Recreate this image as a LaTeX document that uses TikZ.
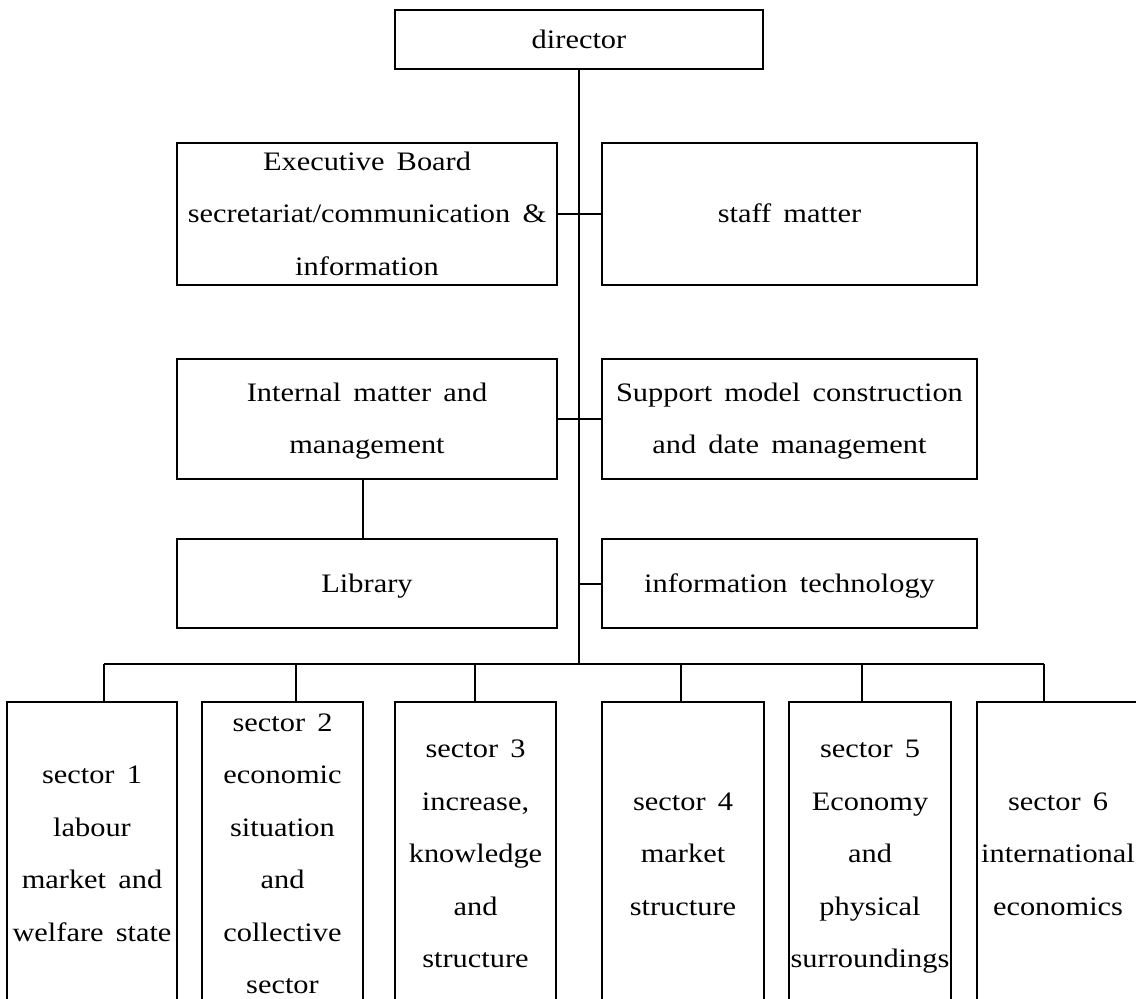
\documentclass[tikz,border=0pt]{standalone}
\usepackage{fontspec}
\setmainfont{Liberation Serif}
\usepackage{graphicx}
\newcommand\tsx{1.14}
\newcommand\boxtext[1]{\raisebox{-3.8pt}{\scalebox{\tsx}[1]{\begin{tabular}{@{}c@{}}#1\end{tabular}}}}
\newcommand\boxfont{\fontsize{20}{39.4}\selectfont\spaceskip=0.4em\relax}
\begin{document}
\begin{tikzpicture}[x=0.75pt,y=-0.75pt,
  box/.style={draw, line width=1.5pt, inner sep=0pt, text height=0pt, text depth=0pt,
    font=\boxfont},
  sz/.style 2 args={minimum width=#1*0.75pt, minimum height=#2*0.75pt},
  link/.style={line width=1.5pt}]
\clip (0,0) rectangle (1136,999);
% boxes
\node[box, sz={368}{59}]  (dir)   at (579,39.5) {\boxtext{director}};
\node[box, sz={380}{142}] (exec)  at (367,214)  {\boxtext{Executive Board\\ secretariat/communication \&\\ information}};
\node[box, sz={375}{142}] (staff) at (789.5,214) {\boxtext{staff matter}};
\node[box, sz={380}{120}] (intm)  at (367,419)  {\boxtext{Internal matter and\\ management}};
\node[box, sz={375}{120}] (supp)  at (789.5,419) {\boxtext{Support model construction\\ and date management}};
\node[box, sz={380}{89}]  (lib)   at (367,583.5) {\boxtext{Library}};
\node[box, sz={375}{89}]  (it)    at (789.5,583.5) {\boxtext{information technology}};
\node[box, sz={170}{304}] (s1) at (92,854)    {\boxtext{sector 1\\ labour\\ market and\\ welfare state}};
\node[box, sz={161}{304}] (s2) at (282.5,854) {\boxtext{sector 2\\ economic\\ situation\\ and\\ collective\\ sector}};
\node[box, sz={161}{304}] (s3) at (475.5,854) {\boxtext{sector 3\\ increase,\\ knowledge\\ and\\ structure}};
\node[box, sz={162}{304}] (s4) at (683,854)   {\boxtext{sector 4\\ market\\ structure}};
\node[box, sz={162}{304}] (s5) at (870,854)   {\boxtext{sector 5\\ Economy\\ and\\ physical\\ surroundings}};
\node[box, sz={162}{304}] (s6) at (1058,854)  {\boxtext{sector 6\\ international\\ economics}};
% bus coordinates
\coordinate (hub) at (579,664);
\coordinate (d1) at (104,664);
\coordinate (d2) at (296,664);
\coordinate (d3) at (475,664);
\coordinate (d4) at (681,664);
\coordinate (d5) at (862,664);
\coordinate (d6) at (1044,664);
% connectors
\draw[link] (dir.south) -- (hub);
\draw[link] (exec.east) -- (staff.west);
\draw[link] (intm.east) -- (supp.west);
\draw[link] (it.west) -- (it.west -| hub);
\draw[link] ([xshift=-4*0.75pt]intm.south) -- ([xshift=-4*0.75pt]lib.north);
\draw[link] (d1) -- (d6);
\foreach \i in {1,...,6} \draw[link] (d\i) -- (s\i.north -| d\i);
\end{tikzpicture}
\end{document}
